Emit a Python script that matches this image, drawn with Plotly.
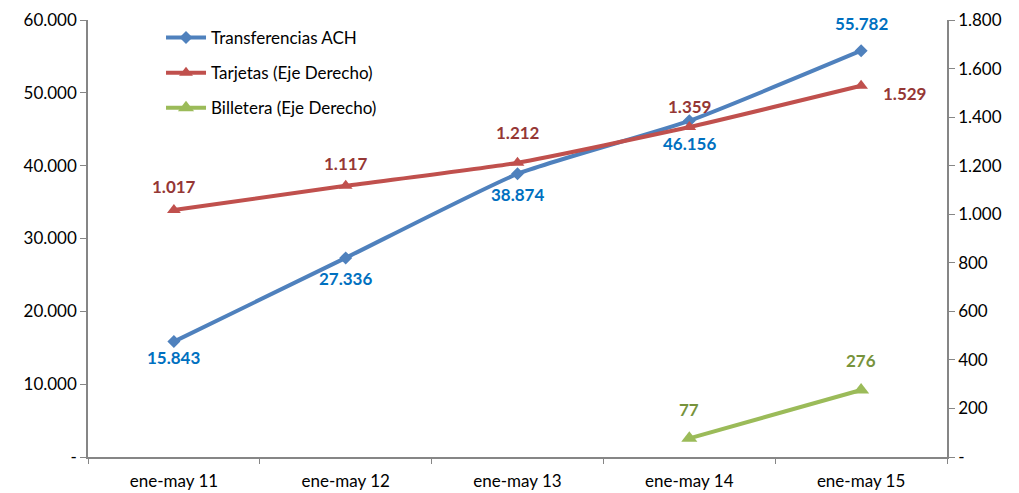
import plotly.graph_objects as go

categories = ["ene-may 11", "ene-may 12", "ene-may 13", "ene-may 14", "ene-may 15"]
ach = [15843, 27336, 38874, 46156, 55782]
tarjetas = [1017, 1117, 1212, 1359, 1529]
billetera = [None, None, None, 77, 276]

left_ticks = [0, 10000, 20000, 30000, 40000, 50000, 60000]
left_ticktext = ["-", "10.000", "20.000", "30.000", "40.000", "50.000", "60.000"]
right_ticks = [0, 200, 400, 600, 800, 1000, 1200, 1400, 1600, 1800]
right_ticktext = ["-", "200", "400", "600", "800", "1.000", "1.200", "1.400", "1.600", "1.800"]

FONT = "Lato, 'Open Sans', sans-serif"
AXIS_COLOR = "#868686"
TICK_SIZE = 17
LABEL_SIZE = 17


def fmt(v):
    return f"{v:,}".replace(",", ".")


fig = go.Figure()

fig.add_trace(go.Scatter(
    x=categories, y=ach, name="Transferencias ACH", legendgroup="a",
    mode="lines+markers", line=dict(color="#4F81BD", width=4, shape="spline", smoothing=0.5),
    marker=dict(symbol="diamond", size=10, color="#4F81BD"),
))
fig.add_trace(go.Scatter(
    x=categories, y=tarjetas, name="Tarjetas (Eje Derecho)", legendgroup="b", yaxis="y2",
    mode="lines+markers", line=dict(color="#C0504D", width=4, shape="spline", smoothing=0.5),
    marker=dict(symbol="triangle-up", size=12, color="#C0504D"),
))
fig.add_trace(go.Scatter(
    x=categories, y=billetera, name="Billetera (Eje Derecho)", legendgroup="c", yaxis="y2",
    mode="lines+markers", line=dict(color="#9BBB59", width=4),
    marker=dict(symbol="triangle-up", size=14, color="#9BBB59"),
))

# data labels (offsets in px from each point)
ach_shift = [-16, -21, -21, -23, 27]
for c, v, s in zip(categories, ach, ach_shift):
    fig.add_annotation(x=c, y=v, yref="y", text=f"<b>{fmt(v)}</b>", showarrow=False,
                       yshift=s, font=dict(color="#0070C0", size=LABEL_SIZE, family=FONT))
tar_shift = [(0, 24), (0, 22), (0, 30), (0, 21), (43, -8)]
for c, v, (xs, ys) in zip(categories, tarjetas, tar_shift):
    fig.add_annotation(x=c, y=v, yref="y2", text=f"<b>{fmt(v)}</b>", showarrow=False,
                       xshift=xs, yshift=ys, font=dict(color="#953735", size=LABEL_SIZE, family=FONT))
for c, v in zip(categories, billetera):
    if v is None:
        continue
    fig.add_annotation(x=c, y=v, yref="y2", text=f"<b>{fmt(v)}</b>", showarrow=False,
                       yshift=29, font=dict(color="#77933C", size=LABEL_SIZE, family=FONT))

axis_common = dict(showgrid=False, zeroline=False, showline=True, linecolor=AXIS_COLOR,
                   linewidth=1.5, ticks="outside", tickcolor=AXIS_COLOR, ticklen=6,
                   automargin=False, ticklabeloverflow="allow",
                   tickfont=dict(size=TICK_SIZE, color="#000000", family=FONT))

# the page body has an 8px margin, so the figure is sized/offset to compensate
fig.update_layout(
    width=1011, height=485,
    margin=dict(l=80, r=72, t=12, b=36),
    paper_bgcolor="white", plot_bgcolor="white",
    font=dict(family=FONT, size=TICK_SIZE, color="#000000"),
    showlegend=True,
    legend=dict(x=0.085, y=1.0, xanchor="left", yanchor="top",
                bgcolor="rgba(0,0,0,0)", tracegroupgap=10, itemwidth=40,
                font=dict(size=TICK_SIZE, color="#000000", family=FONT)),
    xaxis=dict(**axis_common, range=[-0.5, 4.5]),
    yaxis=dict(**axis_common, range=[0, 60000], tickvals=left_ticks, ticktext=left_ticktext),
    yaxis2=dict(**axis_common, range=[0, 1800], tickvals=right_ticks, ticktext=right_ticktext,
                overlaying="y", side="right"),
)
# labels centred on categories, ticks on category boundaries
fig.update_xaxes(ticks="", selector=dict(anchor=None))
fig.update_layout(xaxis2=dict(overlaying="x", range=[-0.5, 4.5], tickvals=[-0.5, 0.5, 1.5, 2.5, 3.5, 4.5],
                              ticks="outside", ticklen=6, tickcolor=AXIS_COLOR, showticklabels=False,
                              showline=False, showgrid=False, zeroline=False, side="bottom",
                              anchor="y", automargin=False))
fig.add_trace(go.Scatter(x=[None], y=[None], xaxis="x2", showlegend=False, hoverinfo="skip"))
fig.update_layout(xaxis_ticklabelstandoff=8)

fig.write_html("out.html")
